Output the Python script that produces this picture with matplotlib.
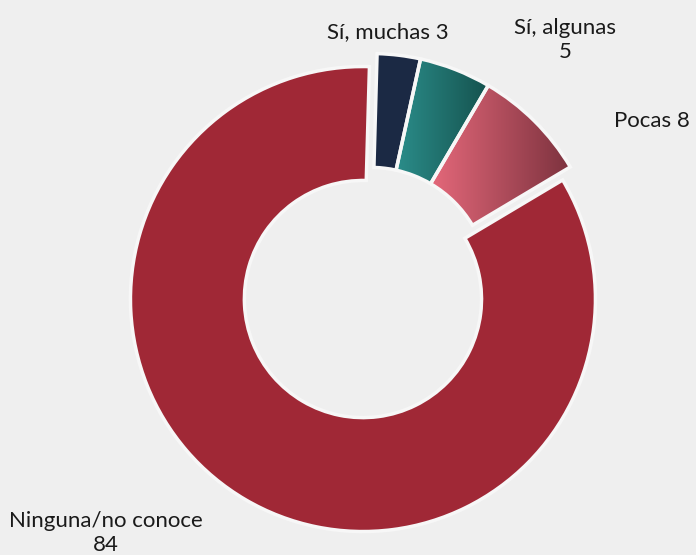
import numpy as np
import matplotlib
matplotlib.use('Agg')
import matplotlib.pyplot as plt
from matplotlib.colors import LinearSegmentedColormap

plt.rcParams['font.family'] = ['Lato', 'DejaVu Sans']

# datos
categorias = ['Sí, muchas', 'Sí, algunas', 'Pocas', 'Ninguna/no conoce']
valores = [3, 5, 8, 84]
etiquetas = ['Sí, muchas 3', 'Sí, algunas\n5', 'Pocas 8', 'Ninguna/no conoce\n84']

fondo = '#efefef'
colores = ['#1b2944', '#228582', '#d25f6f', '#a02836']
# degradados horizontales (claro -> oscuro) para dos porciones
degradados = {1: ('#2b8d8a', '#15524e'), 2: ('#e4687a', '#7c323e')}

W, H = 696, 555
R = 232.5          # radio en pixeles
cx, cy = 370.6, 286.0

fig = plt.figure(figsize=(W / 100, H / 100), dpi=100, facecolor=fondo)
ax = fig.add_axes([0, 0, 1, 1])
ax.set_facecolor(fondo)
ax.axis('off')

explode = [0, 0, 0, 0.065]
wedges, _ = ax.pie(valores, colors=colores, startangle=88.4, counterclock=False,
                   explode=explode, radius=1.0,
                   wedgeprops=dict(width=0.49, edgecolor='#f7f7f7', linewidth=2.5))

for i, (c1, c2) in degradados.items():
    w = wedges[i]
    w.set_facecolor('none')
    bb = w.get_path().get_extents(w.get_patch_transform())
    cmap = LinearSegmentedColormap.from_list('g%d' % i, [c1, c2])
    grad = np.linspace(0, 1, 256).reshape(1, -1)
    im = ax.imshow(grad, cmap=cmap, aspect='auto',
                   extent=[bb.x0, bb.x1, bb.y0, bb.y1], zorder=w.get_zorder() - 0.1)
    im.set_clip_path(w)

ax.set_aspect('auto')
ax.set_xlim(-cx / R, (W - cx) / R)
ax.set_ylim(-(H - cy) / R, cy / R)

# posiciones de etiquetas (pixeles de la figura)
pos = [(388, 32), (565, 40), (652, 121), (106, 533)]
for txt, (px, py) in zip(etiquetas, pos):
    fig.text(px / W, 1 - py / H, txt, ha='center', va='center',
             fontsize=16, color='#1a1a1a', linespacing=1.2)

fig.savefig('out.png', dpi=100, facecolor=fondo)
